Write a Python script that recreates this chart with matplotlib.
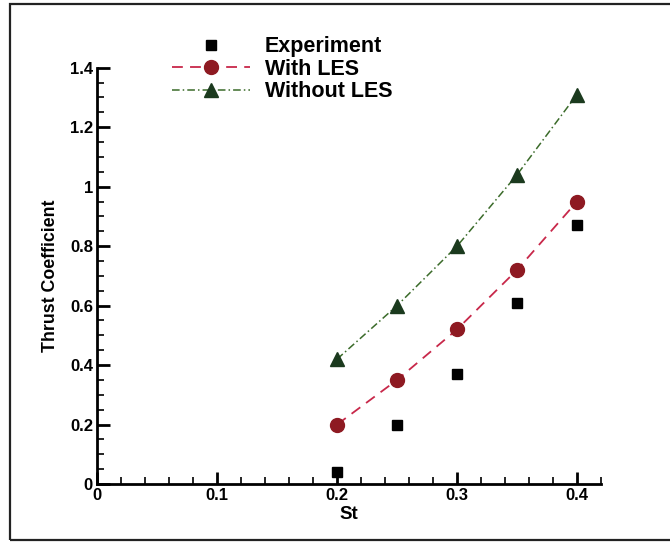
import matplotlib.pyplot as plt
from matplotlib.patches import Rectangle
from matplotlib.ticker import MultipleLocator

plt.rcParams['font.family'] = ['Liberation Sans', 'DejaVu Sans']

st = [0.2, 0.25, 0.3, 0.35, 0.4]
experiment = [0.04, 0.20, 0.37, 0.61, 0.87]
with_les = [0.20, 0.35, 0.52, 0.72, 0.95]
without_les = [0.42, 0.60, 0.80, 1.04, 1.31]

fig = plt.figure(figsize=(6.7, 5.42), dpi=100)
ax = fig.add_axes([0.145, 0.107, 0.752, 0.768])

# frame around the picture (right side runs off the edge)
fig.patches.append(Rectangle((0.015, 0.004), 1.2, 0.989, transform=fig.transFigure,
                             fill=False, edgecolor="#222222", linewidth=1.6))

ax.plot(st, experiment, "s", color="black", markersize=7, label="Experiment", clip_on=False)
ax.plot(st, with_les, "--", color="#c8284a", linewidth=1.3, dashes=(6, 4),
        marker="o", markersize=10, markerfacecolor="#8e1a22", markeredgecolor="#8e1a22",
        label="With LES", clip_on=False)
ax.plot(st, without_les, "-.", color="#3b6b2a", linewidth=1.1, dashes=(5, 2, 1, 2),
        marker="^", markersize=10, markerfacecolor="#1b3a1e", markeredgecolor="#1b3a1e",
        label="Without LES", clip_on=False)

ax.set_xlim(0, 0.42)
ax.set_ylim(0, 1.4)
ax.xaxis.set_minor_locator(MultipleLocator(0.02))
ax.yaxis.set_minor_locator(MultipleLocator(0.05))
ax.set_xticks([0, 0.1, 0.2, 0.3, 0.4])
ax.set_xticklabels(["0", "0.1", "0.2", "0.3", "0.4"])
ax.set_yticks([0, 0.2, 0.4, 0.6, 0.8, 1.0, 1.2, 1.4])
ax.set_yticklabels(["0", "0.2", "0.4", "0.6", "0.8", "1", "1.2", "1.4"])

for side in ["top", "right"]:
    ax.spines[side].set_visible(False)
for side in ["left", "bottom"]:
    ax.spines[side].set_linewidth(2)

ax.tick_params(which="major", direction="in", length=9, width=2, labelsize=12, pad=3)
ax.tick_params(which="minor", direction="in", length=5, width=1.2)
for lbl in ax.get_xticklabels() + ax.get_yticklabels():
    lbl.set_fontweight("semibold")

ax.set_xlabel("St", fontsize=13.5, fontweight="bold", labelpad=2)
ax.set_ylabel("Thrust Coefficient", fontsize=12.8, fontweight="bold", labelpad=8)

leg = ax.legend(loc="upper left", bbox_to_anchor=(0.132, 1.096), frameon=False,
                prop={"size": 15.5, "weight": "bold"}, handlelength=3.6,
                handletextpad=0.7, labelspacing=0.07, borderaxespad=0)

plt.savefig("out.png", dpi=100)
